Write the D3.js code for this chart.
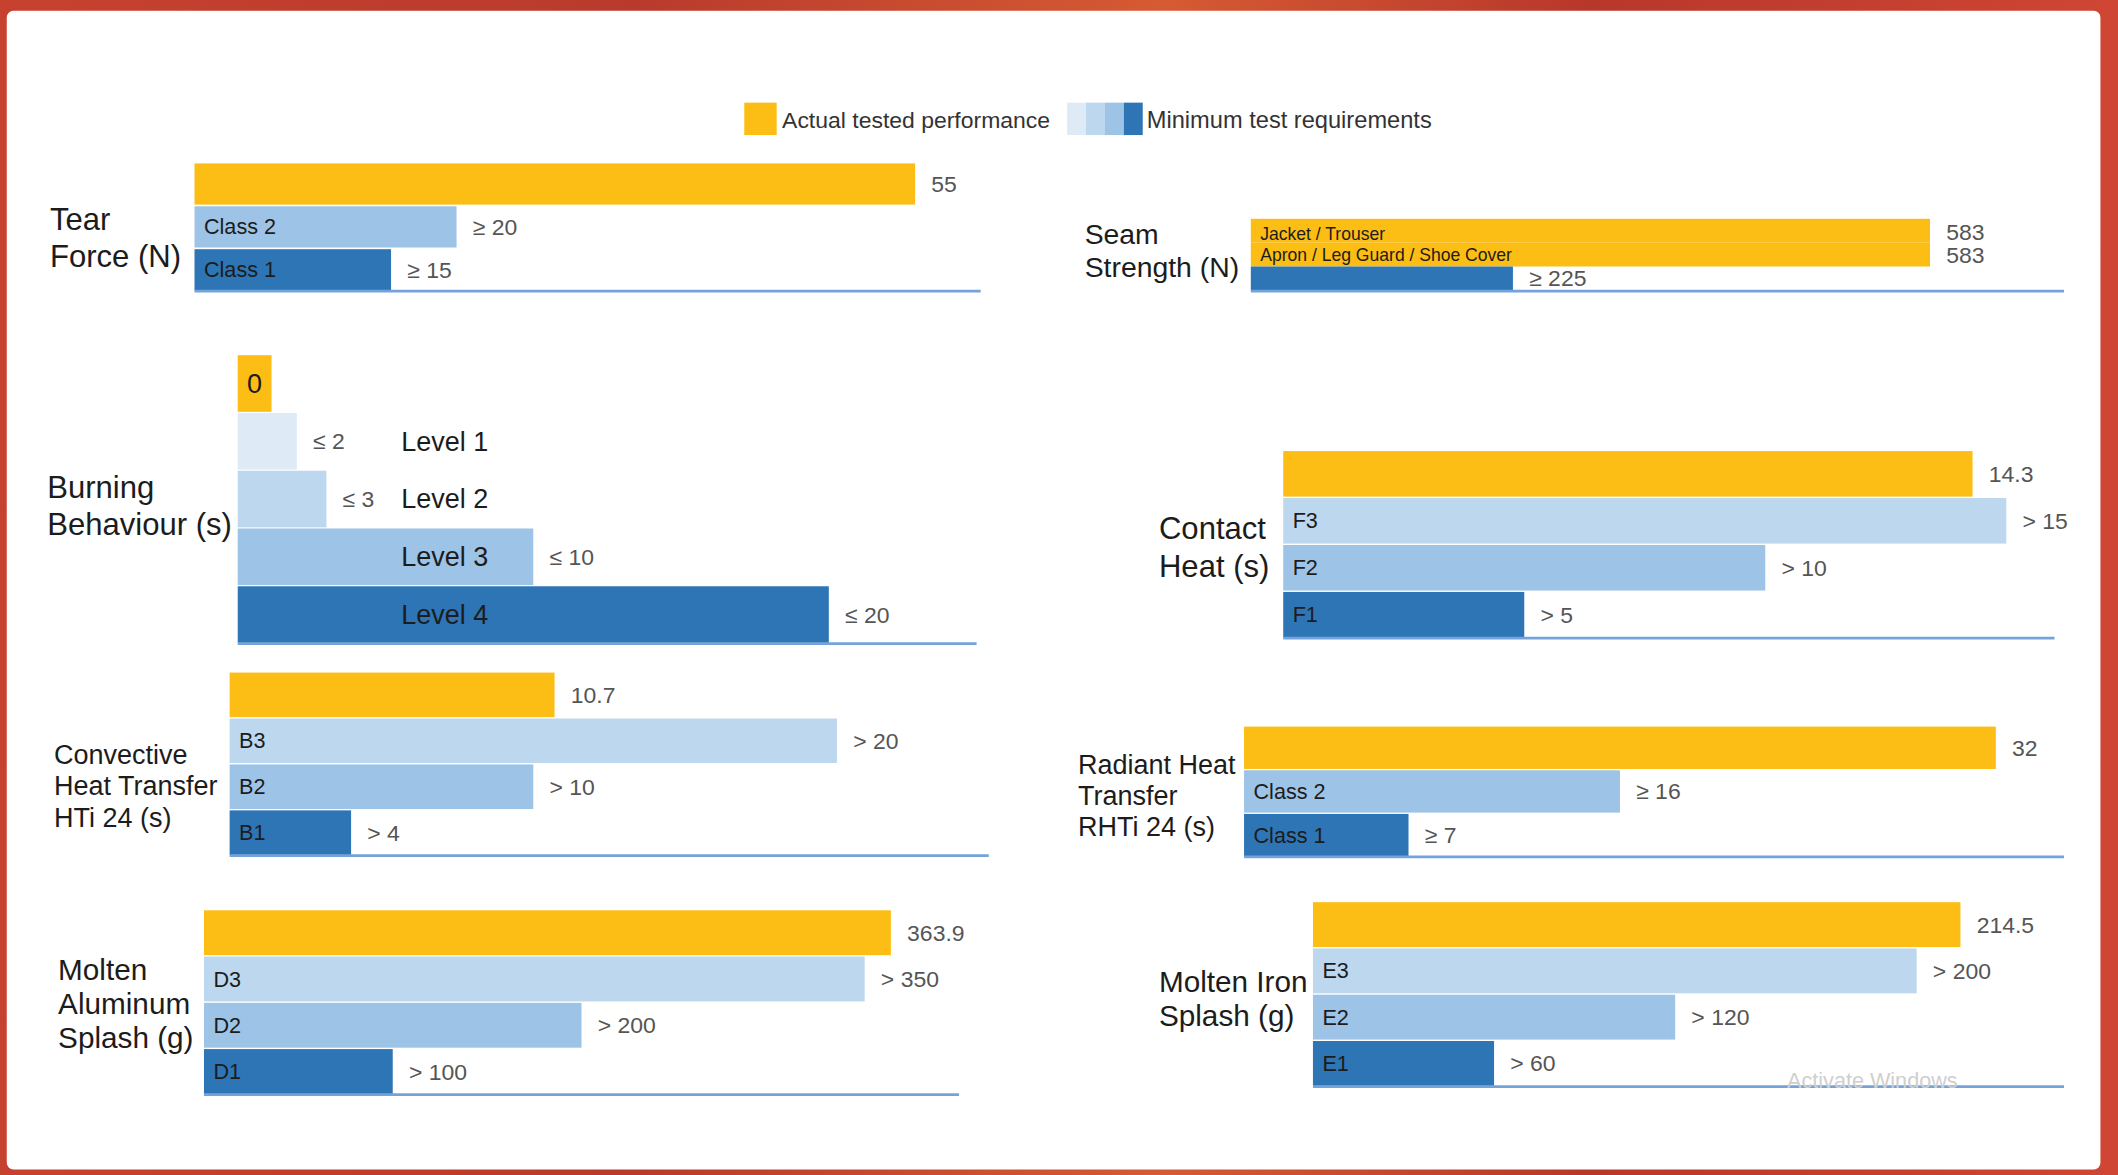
<!DOCTYPE html>
<html>
<head>
<meta charset="utf-8">
<script src="https://cdn.jsdelivr.net/npm/d3@7"></script>
<style>
  html, body { margin: 0; padding: 0; background: #fff; overflow: hidden; }
</style>
</head>
<body>
<div id="chart"></div>
<script>
// Data
const tearLabels = ['', 'Class 2', 'Class 1'];
const tearValues = [55, 20, 15];
const tearTexts = ['55', '≥ 20', '≥ 15'];

const seamLabels = ['Jacket / Trouser', 'Apron / Leg Guard / Shoe Cover', ''];
const seamValues = [583, 583, 225];
const seamTexts = ['583', '583', '≥ 225'];

const burnLabels = ['0', 'Level 1', 'Level 2', 'Level 3', 'Level 4'];
const burnValues = [0, 2, 3, 10, 20];
const burnTexts = ['', '≤ 2', '≤ 3', '≤ 10', '≤ 20'];

const contactLabels = ['', 'F3', 'F2', 'F1'];
const contactValues = [14.3, 15, 10, 5];
const contactTexts = ['14.3', '> 15', '> 10', '> 5'];

const convLabels = ['', 'B3', 'B2', 'B1'];
const convValues = [10.7, 20, 10, 4];
const convTexts = ['10.7', '> 20', '> 10', '> 4'];

const radLabels = ['', 'Class 2', 'Class 1'];
const radValues = [32, 16, 7];
const radTexts = ['32', '≥ 16', '≥ 7'];

const aluLabels = ['', 'D3', 'D2', 'D1'];
const aluValues = [363.9, 350, 200, 100];
const aluTexts = ['363.9', '> 350', '> 200', '> 100'];

const ironLabels = ['', 'E3', 'E2', 'E1'];
const ironValues = [214.5, 200, 120, 60];
const ironTexts = ['214.5', '> 200', '> 120', '> 60'];

const legendLabels = ['Actual tested performance', 'Minimum test requirements'];

// Colours
const YEL = '#fcbd14';
const B0 = '#deebf7', B1 = '#bdd7ee', B2 = '#9dc3e6', B3 = '#2e75b6';
const AXIS = '#74a3d9';
const TXT = '#1c1c1c', VAL = '#555';

const panels = [
    { title: ['Tear', 'Force (N)'], tx: 37, ty: 162, tlh: 28, tfs: 23,
      labels: tearLabels, values: tearValues, texts: tearTexts, max: 60,
      x0: 144, x1: 726, y0: 121, y1: 215, pad: 0.04, colors: [YEL, B2, B3] },
    { title: ['Seam', 'Strength (N)'], tx: 803, ty: 173, tlh: 25, tfs: 21,
      labels: seamLabels, values: seamValues, texts: seamTexts, max: 698,
      x0: 926, x1: 1528, y0: 162, y1: 215, pad: 0, colors: [YEL, YEL, B3], lfs: 13, labDy: [2, 0, 0], valDy: [1, 0, 0] },
    { title: ['Burning', 'Behaviour (s)'], tx: 35, ty: 361, tlh: 27, tfs: 23,
      labels: burnLabels, values: burnValues, texts: burnTexts, max: 25, minW: 25,
      x0: 176, x1: 723, y0: 263, y1: 476, pad: 0.02, colors: [YEL, B0, B1, B2, B3], burn: true },
    { title: ['Contact', 'Heat (s)'], tx: 858, ty: 391, tlh: 28, tfs: 23,
      labels: contactLabels, values: contactValues, texts: contactTexts, max: 16,
      x0: 950, x1: 1521, y0: 334, y1: 472, pad: 0.03, colors: [YEL, B1, B2, B3] },
    { title: ['Convective', 'Heat Transfer', 'HTi 24 (s)'], tx: 40, ty: 559, tlh: 23, tfs: 20,
      labels: convLabels, values: convValues, texts: convTexts, max: 25,
      x0: 170, x1: 732, y0: 498, y1: 633, pad: 0.03, colors: [YEL, B1, B2, B3] },
    { title: ['Radiant Heat', 'Transfer', 'RHTi 24 (s)'], tx: 798, ty: 566, tlh: 23, tfs: 20,
      labels: radLabels, values: radValues, texts: radTexts, max: 34.9,
      x0: 921, x1: 1528, y0: 538, y1: 634, pad: 0.03, colors: [YEL, B2, B3] },
    { title: ['Molten', 'Aluminum', 'Splash (g)'], tx: 43, ty: 718, tlh: 25, tfs: 22,
      labels: aluLabels, values: aluValues, texts: aluTexts, max: 400,
      x0: 151, x1: 710, y0: 674, y1: 810, pad: 0.03, colors: [YEL, B1, B2, B3] },
    { title: ['Molten Iron', 'Splash (g)'], tx: 858, ty: 727, tlh: 25, tfs: 22,
      labels: ironLabels, values: ironValues, texts: ironTexts, max: 248.8,
      x0: 972, x1: 1528, y0: 668, y1: 804, pad: 0.03, colors: [YEL, B1, B2, B3] }
];

const svg = d3.select('#chart').append('svg')
    .attr('width', 2118)
    .attr('height', 1175)
    .attr('viewBox', '0 0 1568 870')
    .attr('preserveAspectRatio', 'none')
    .style('display', 'block');

// Red frame
const defs = svg.append('defs');
const grad = defs.append('linearGradient').attr('id', 'frame').attr('x1', 0).attr('x2', 1);
[['0%', '#c7412f'], ['30%', '#b93a2c'], ['55%', '#d65a33'], ['75%', '#b8372b'], ['100%', '#cf4634']]
    .forEach(s => grad.append('stop').attr('offset', s[0]).attr('stop-color', s[1]));
svg.append('rect').attr('width', 1568).attr('height', 870).attr('fill', 'url(#frame)');
svg.append('rect').attr('x', 5).attr('y', 8).attr('width', 1550).attr('height', 858)
    .attr('rx', 5).attr('fill', '#fff');

// Legend
const legend = svg.append('g').style('font-family', 'Liberation Sans, Arial, sans-serif');
legend.append('rect').attr('x', 551).attr('y', 76).attr('width', 24).attr('height', 24).attr('fill', YEL);
legend.append('text').attr('x', 579).attr('y', 89).attr('dy', '0.35em')
    .style('font-size', '17px').attr('fill', '#333').text(legendLabels[0]);
const sw = d3.scaleBand().domain(d3.range(4)).range([790, 846]);
legend.selectAll('.sw').data([B0, B1, B2, B3]).join('rect')
    .attr('class', 'sw')
    .attr('x', (d, i) => sw(i)).attr('y', 76)
    .attr('width', sw.bandwidth()).attr('height', 24)
    .attr('fill', d => d);
legend.append('text').attr('x', 849).attr('y', 89).attr('dy', '0.35em')
    .style('font-size', '17.5px').attr('fill', '#333').text(legendLabels[1]);

const drawPanel = (p) => {
    const g = svg.append('g').style('font-family', 'Liberation Sans, Arial, sans-serif');
    const x = d3.scaleLinear().domain([0, p.max]).range([p.x0, p.x1]);
    const y = d3.scaleBand().domain(d3.range(p.values.length)).range([p.y0, p.y1]).paddingInner(p.pad);
    const w = d => Math.max(x(d) - x(0), p.minW || 0);

    // Title
    g.selectAll('.title').data(p.title).join('text')
        .attr('class', 'title')
        .attr('x', p.tx)
        .attr('y', (d, i) => p.ty + i * p.tlh)
        .attr('dy', '0.35em')
        .style('font-size', p.tfs + 'px')
        .attr('fill', TXT)
        .text(d => d);

    // Bars
    g.selectAll('.bar').data(p.values).join('rect')
        .attr('class', 'bar')
        .attr('x', x(0))
        .attr('y', (d, i) => y(i))
        .attr('width', d => w(d))
        .attr('height', y.bandwidth())
        .attr('fill', (d, i) => p.colors[i]);

    // Baseline
    g.append('line')
        .attr('x1', x(0)).attr('x2', p.x1)
        .attr('y1', p.y1 + 0.5).attr('y2', p.y1 + 0.5)
        .attr('stroke', AXIS).attr('stroke-width', 2);

    // Value labels
    g.selectAll('.val').data(p.values).join('text')
        .attr('class', 'val')
        .attr('x', d => x(0) + w(d) + 12)
        .attr('y', (d, i) => y(i) + y.bandwidth() / 2 + (p.valDy ? p.valDy[i] : 0))
        .attr('dy', '0.35em')
        .style('font-size', '17px')
        .attr('fill', VAL)
        .text((d, i) => p.texts[i]);

    // Labels inside bars
    g.selectAll('.lab').data(p.labels).join('text')
        .attr('class', 'lab')
        .attr('x', (d, i) => p.burn ? (i === 0 ? x(0) + p.minW / 2 : x(0) + 121) : x(0) + 7)
        .attr('y', (d, i) => y(i) + y.bandwidth() / 2 + (p.labDy ? p.labDy[i] : 0))
        .attr('dy', '0.35em')
        .attr('text-anchor', (d, i) => p.burn && i === 0 ? 'middle' : 'start')
        .style('font-size', (p.burn ? 20 : (p.lfs || 16)) + 'px')
        .attr('fill', TXT)
        .text(d => d);
};

panels.forEach(drawPanel);

// Watermark text visible in the screenshot
svg.append('text').attr('x', 1323).attr('y', 800).attr('dy', '0.35em')
    .style('font-family', 'Liberation Sans, Arial, sans-serif')
    .style('font-size', '16px').attr('fill', '#cfcfcf').text('Activate Windows');
</script>
</body>
</html>
